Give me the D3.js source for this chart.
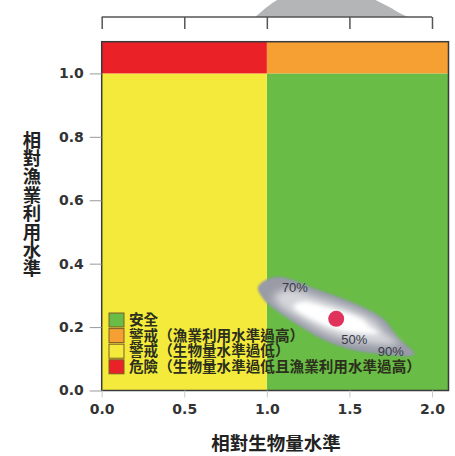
<!DOCTYPE html>
<html><head><meta charset="utf-8">
<script src="https://cdn.jsdelivr.net/npm/d3@7"></script>
<style>html,body{margin:0;padding:0;background:#fff}svg{display:block}</style>
</head><body>
<svg id="chart" width="455" height="456"></svg>
<script>
// ---- data ----
const zones = [
  {name:"安全", x0:1.0, x1:2.1, y0:0.0, y1:1.0},
  {name:"警戒（漁業利用水準過高）", x0:1.0, x1:2.1, y0:1.0, y1:1.1},
  {name:"警戒（生物量水準過低）", x0:0.0, x1:1.0, y0:0.0, y1:1.0},
  {name:"危險（生物量水準過低且漁業利用水準過高）", x0:0.0, x1:1.0, y0:1.0, y1:1.1}
];
const zoneColors = ["#69bc45","#f6a033","#f4ea3b","#ea2227"];
const xTicks = [0.0, 0.5, 1.0, 1.5, 2.0];
const yTicks = [0.0, 0.2, 0.4, 0.6, 0.8, 1.0];
const currentX = 1.42, currentY = 0.226;
// 90% contour outline (relative biomass, relative exploitation)
const contourX = [0.95,1.06,1.30,1.57,1.71,1.79,1.89,1.68,1.50,1.35,1.19,1.07,0.99];
const contourY = [0.327,0.357,0.318,0.264,0.222,0.168,0.115,0.117,0.132,0.160,0.208,0.250,0.283];
const percentLabels = ["70%","50%","90%"];
const percentX = [1.17,1.53,1.75];
const percentY = [0.325,0.162,0.122];
// marginal density of relative biomass (top panel)
const densX = [0.93,1.00,1.06,1.15,1.30,1.45,1.60,1.68,1.75,1.82,1.86];
const densY = [0.00,0.30,0.50,0.75,0.95,1.00,0.62,0.45,0.28,0.06,0.00];
const xTitle = "相對生物量水準";
const yTitle = "相對漁業利用水準";

// ---- drawing ----
const svg = d3.select("#chart");
const x = d3.scaleLinear().domain([0, 2.1]).range([101.7, 448.5]);
const y = d3.scaleLinear().domain([0, 1.1]).range([390.5, 41.7]);
const dScale = d3.scaleLinear().domain([0, 1]).range([17, -17]);

const defs = svg.append("defs");
const fb = defs.append("filter").attr("id","blur").attr("x","-20%").attr("y","-20%").attr("width","140%").attr("height","140%");
fb.append("feGaussianBlur").attr("stdDeviation",1.0);
const fb2 = defs.append("filter").attr("id","blur2").attr("x","-50%").attr("y","-50%").attr("width","200%").attr("height","200%");
fb2.append("feGaussianBlur").attr("stdDeviation",5);
const clip = defs.append("clipPath").attr("id","topclip");
clip.append("rect").attr("x",0).attr("y",0).attr("width",455).attr("height",17);

// marginal density
const area = d3.area().x((d,i)=>x(densX[i])).y0(dScale(0)).y1((d,i)=>dScale(densY[i])).curve(d3.curveBasis);
svg.append("path").datum(densX).attr("d",area).attr("fill","#b4b5b7").attr("clip-path","url(#topclip)");

// top axis
const topAxis = d3.axisBottom(x).tickValues(xTicks).tickSize(12).tickSizeOuter(0).tickFormat("");
const ta = svg.append("g").attr("transform","translate(0,17)").call(topAxis);
ta.select(".domain").attr("stroke","#555").attr("stroke-width",1.5).attr("d",`M${x(0)},0H${x(2)}`);
ta.selectAll(".tick line").attr("stroke","#555").attr("stroke-width",1.5);

// zones
svg.append("g").selectAll("rect").data(zones).join("rect")
  .attr("x",d=>x(d.x0)).attr("y",d=>y(d.y1))
  .attr("width",d=>x(d.x1)-x(d.x0)).attr("height",d=>y(d.y0)-y(d.y1))
  .attr("fill",(d,i)=>zoneColors[i]);

// contour blob
const line = d3.line().x((d,i)=>x(contourX[i])).y((d,i)=>y(contourY[i])).curve(d3.curveCatmullRomClosed.alpha(0.5));
svg.append("path").datum(contourX).attr("d",line).attr("fill","#999ca6").attr("stroke","#8a93b3").attr("stroke-width",1).attr("filter","url(#blur)");
const cx = x(currentX), cy = y(currentY);
svg.append("path").datum(contourX).attr("d",line).attr("fill","#d4d6da")
  .attr("transform",`translate(${cx},${cy}) scale(0.8,0.72) translate(${-cx},${-cy})`).attr("filter","url(#blur2)");
svg.append("path").datum(contourX).attr("d",line).attr("fill","#ffffff")
  .attr("transform",`translate(${cx},${cy}) scale(0.55,0.42) translate(${-cx},${-cy})`).attr("filter","url(#blur2)");

svg.append("g").selectAll("text").data(percentLabels).join("text")
  .attr("x",(d,i)=>x(percentX[i])).attr("y",(d,i)=>y(percentY[i])).attr("dy","0.35em")
  .attr("text-anchor","middle").attr("font-family","Liberation Sans, Arial, sans-serif")
  .attr("font-size",13).attr("fill","#383a48").text(d=>d);

svg.append("circle").attr("cx",cx).attr("cy",cy).attr("r",8).attr("fill","#e0335c");

// frame
svg.append("rect").attr("x",x(0)).attr("y",y(1.1)).attr("width",x(2.1)-x(0)).attr("height",y(0)-y(1.1))
  .attr("fill","none").attr("stroke","#3a3a3a").attr("stroke-width",1.5);

// bottom axis
const bx = svg.append("g").attr("transform",`translate(0,${y(0)})`)
  .call(d3.axisBottom(x).tickValues(xTicks).tickSize(7).tickSizeOuter(0).tickPadding(7).tickFormat(d3.format(".1f")));
bx.select(".domain").remove();
bx.selectAll(".tick line").attr("stroke","#c9c9c9");
bx.selectAll("text").attr("font-family","DejaVu Sans, sans-serif").attr("font-weight","bold").attr("font-size",14).attr("fill","#333");

// left axis
const ly = svg.append("g").attr("transform",`translate(${x(0)},0)`)
  .call(d3.axisLeft(y).tickValues(yTicks).tickSize(12).tickSizeOuter(0).tickPadding(6).tickFormat(d3.format(".1f")));
ly.select(".domain").remove();
ly.selectAll(".tick line").attr("stroke","#9a9a9a");
ly.selectAll("text").attr("font-family","DejaVu Sans, sans-serif").attr("font-weight","bold").attr("font-size",14).attr("fill","#333");

// titles
svg.append("text").attr("x",276).attr("y",450).attr("text-anchor","middle")
  .attr("font-family","Noto Sans CJK TC, sans-serif").attr("font-weight","bold").attr("font-size",18.5).attr("fill","#222").text(xTitle);
svg.append("text").attr("x",32).attr("y",204).attr("text-anchor","middle")
  .attr("writing-mode","tb").style("writing-mode","vertical-rl").style("text-orientation","upright")
  .attr("letter-spacing",0)
  .attr("font-family","Noto Sans CJK TC, sans-serif").attr("font-weight","bold").attr("font-size",18.4).attr("fill","#222")
  .text(yTitle);

// legend
const lg = svg.append("g");
zones.forEach((z,i)=>{
  const yy = 320 + i*15.6;
  lg.append("rect").attr("x",109).attr("y",yy-7).attr("width",15).attr("height",14)
    .attr("fill",zoneColors[i]).attr("stroke","#7a5a2a").attr("stroke-width",1);
  lg.append("text").attr("x",129).attr("y",yy).attr("dy","0.36em")
    .attr("font-family","Noto Sans CJK TC, sans-serif").attr("font-weight","bold").attr("font-size",14.6)
    .attr("fill","#2b2f1c").text(z.name);
});
</script>
</body></html>
